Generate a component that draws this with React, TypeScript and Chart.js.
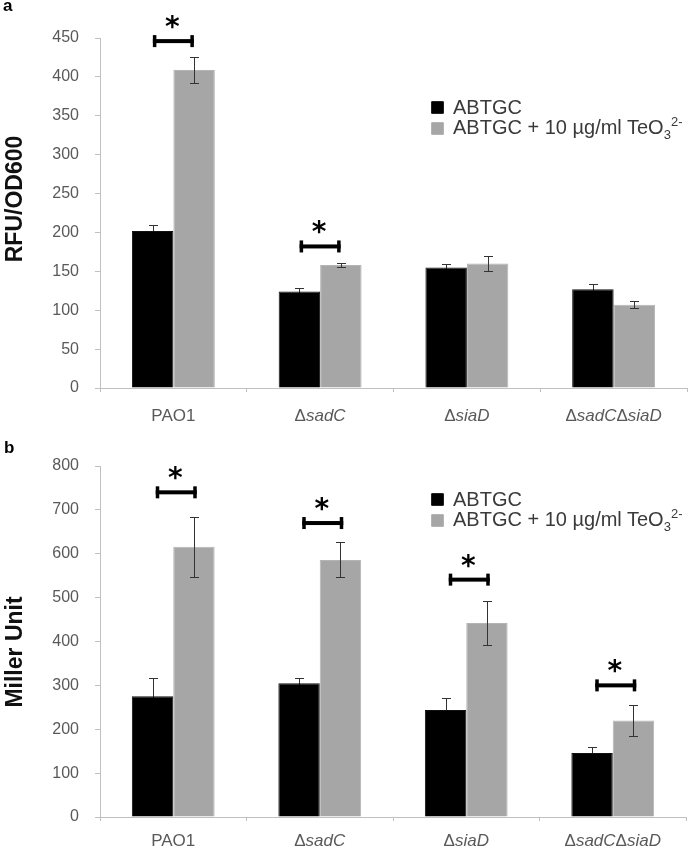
import React, { useEffect, useRef } from "react";
import { Chart, registerables } from "chart.js";

Chart.register(...registerables);

// ---------- data ----------
const categories = ["PAO1", "ΔsadC", "ΔsiaD", "ΔsadCΔsiaD"];
const seriesControl = "ABTGC";
const seriesTreatedMain = "ABTGC + 10 µg/ml TeO";
const seriesTreatedSub = "3";
const seriesTreatedSup = "2-";

// panel a: RFU/OD600
const rfuControl = [202, 124, 155, 127];
const rfuControlErr = [8, 5, 5, 7];
const rfuTreated = [409, 158, 160, 107];
const rfuTreatedErr = [17, 3, 9.5, 4.5];
const rfuSignificance = [446, 182, null, null];
const rfuTicks = { min: 0, max: 450, step: 50 };

// panel b: Miller Unit
const millerControl = [275, 305, 244, 146];
const millerControlErr = [42, 11, 28, 14];
const millerTreated = [616, 586, 442, 220];
const millerTreatedErr = [68, 40, 50, 35];
const millerSignificance = [740, 670, 541, 300];
const millerTicks = { min: 0, max: 800, step: 100 };

// ---------- styles ----------
const FONT = "'Liberation Sans', Arial, sans-serif";
const BLACK = "#000000";
const GREY = "#a6a6a6";
const AXIS = "#c0c0c0";
const TICK_TEXT = "#595959";
const ERR = "#333333";

type PanelProps = {
  top: number;
  height: number;
  axisHeight: number;
  padTop: number;
  padRight: number;
  control: number[];
  controlErr: number[];
  treated: number[];
  treatedErr: number[];
  sig: (number | null)[];
  ticks: { min: number; max: number; step: number };
  bracketShift: number;
  labelOffset: number;
};

function drawErr(chart: any, di: number, vals: number[], errs: number[]) {
  const ctx = chart.ctx;
  const y = chart.scales.y;
  const meta = chart.getDatasetMeta(di);
  meta.data.forEach((bar: any, i: number) => {
    const x = Math.round(bar.x) + 0.5;
    const t = Math.round(y.getPixelForValue(vals[i] + errs[i])) + 0.5;
    const b = Math.round(y.getPixelForValue(vals[i] - errs[i])) + 0.5;
    ctx.save();
    ctx.strokeStyle = ERR;
    ctx.lineWidth = 1;
    ctx.beginPath();
    ctx.moveTo(x, t);
    ctx.lineTo(x, b);
    ctx.moveTo(x - 4.5, t);
    ctx.lineTo(x + 4.5, t);
    ctx.moveTo(x - 4.5, b);
    ctx.lineTo(x + 4.5, b);
    ctx.stroke();
    ctx.restore();
  });
}

function Panel(p: PanelProps) {
  const ref = useRef<HTMLCanvasElement | null>(null);

  useEffect(() => {
    if (!ref.current) return;

    const errorBars = {
      id: "errorBars",
      beforeDatasetsDraw(chart: any) {
        // control bars are black: their lower whisker is hidden by the bar
        drawErr(chart, 0, p.control, p.controlErr);
      },
      afterDatasetsDraw(chart: any) {
        drawErr(chart, 1, p.treated, p.treatedErr);
      },
    };

    const brackets = {
      id: "brackets",
      afterDatasetsDraw(chart: any) {
        const ctx = chart.ctx;
        const y = chart.scales.y;
        const m0 = chart.getDatasetMeta(0);
        const m1 = chart.getDatasetMeta(1);
        p.sig.forEach((v, i) => {
          if (v == null) return;
          const cx = (m0.data[i].x + m1.data[i].x) / 2 + p.bracketShift;
          const cy = y.getPixelForValue(v);
          const half = 20.5;
          ctx.save();
          ctx.fillStyle = "#000";
          ctx.fillRect(cx - half, cy - 2, half * 2, 4);
          ctx.fillRect(cx - half, cy - 6, 3.5, 12);
          ctx.fillRect(cx + half - 3.5, cy - 6, 3.5, 12);
          ctx.font = "bold 28px 'DejaVu Sans', sans-serif";
          ctx.textAlign = "center";
          ctx.textBaseline = "alphabetic";
          const mt = ctx.measureText("*");
          const starCy = cy - 19;
          const by = starCy - (mt.actualBoundingBoxDescent - mt.actualBoundingBoxAscent) / 2;
          ctx.fillText("*", cx - 1, by);
          ctx.restore();
        });
      },
    };

    const xLabels = {
      id: "xLabels",
      afterDraw(chart: any) {
        const ctx = chart.ctx;
        const xs = chart.scales.x;
        const size = 17;
        const normal = `${size}px ${FONT}`;
        const italic = `italic ${size}px ${FONT}`;
        categories.forEach((label, i) => {
          const parts: { t: string; f: string }[] = [];
          if (label.indexOf("Δ") < 0) {
            parts.push({ t: label, f: normal });
          } else {
            label.split("Δ").forEach((seg, k) => {
              if (k > 0) parts.push({ t: "Δ", f: normal });
              if (seg) parts.push({ t: seg, f: italic });
            });
          }
          ctx.save();
          ctx.fillStyle = TICK_TEXT;
          ctx.textBaseline = "alphabetic";
          ctx.textAlign = "left";
          let w = 0;
          parts.forEach((pt) => {
            ctx.font = pt.f;
            w += ctx.measureText(pt.t).width;
          });
          let x = xs.getPixelForValue(i) - w / 2;
          const base = chart.chartArea.bottom + p.labelOffset + size * 0.36;
          parts.forEach((pt) => {
            ctx.font = pt.f;
            ctx.fillText(pt.t, x, base);
            x += ctx.measureText(pt.t).width;
          });
          ctx.restore();
        });
      },
    };

    const chart = new Chart(ref.current, {
      type: "bar",
      data: {
        labels: categories,
        datasets: [
          {
            label: seriesControl,
            data: p.control,
            backgroundColor: BLACK,
            borderColor: "#111",
            borderWidth: 1,
            categoryPercentage: 0.565,
            barPercentage: 1,
          },
          {
            label: seriesTreatedMain + seriesTreatedSub + seriesTreatedSup,
            data: p.treated,
            backgroundColor: GREY,
            borderColor: "#b4b4b4",
            borderWidth: 1,
            categoryPercentage: 0.565,
            barPercentage: 1,
          },
        ],
      },
      options: {
        responsive: false,
        animation: false,
        layout: { padding: { top: p.padTop, right: p.padRight, left: 0, bottom: 0 } },
        plugins: {
          legend: { display: false },
          tooltip: { enabled: false },
          title: { display: false },
        },
        scales: {
          x: {
            afterFit: (s: any) => {
              s.height = p.axisHeight;
            },
            grid: {
              display: true,
              drawOnChartArea: false,
              drawTicks: true,
              tickLength: 4,
              color: AXIS,
              offset: true,
            },
            border: { display: true, color: AXIS, width: 1 },
            ticks: { display: false },
          },
          y: {
            min: p.ticks.min,
            max: p.ticks.max,
            afterFit: (s: any) => {
              s.width = 100;
            },
            grid: {
              display: true,
              drawOnChartArea: false,
              drawTicks: true,
              tickLength: 5,
              color: AXIS,
            },
            border: { display: true, color: AXIS, width: 1 },
            ticks: {
              stepSize: p.ticks.step,
              padding: 16,
              color: TICK_TEXT,
              font: { family: FONT, size: 16 },
            },
          },
        },
      },
      plugins: [errorBars, brackets, xLabels],
    } as any);

    return () => chart.destroy();
  }, []);

  return (
    <canvas
      ref={ref}
      width={697}
      height={p.height}
      style={{ position: "absolute", left: 0, top: p.top, width: 697, height: p.height, display: "block" }}
    />
  );
}

function Legend({ row1, row2 }: { row1: number; row2: number }) {
  const rowStyle = (cy: number): React.CSSProperties => ({
    position: "absolute",
    left: 431,
    top: cy - 12,
    height: 24,
    display: "flex",
    alignItems: "center",
    whiteSpace: "nowrap",
    fontFamily: FONT,
    fontSize: 20,
    color: "#3a3a3a",
    lineHeight: "24px",
  });
  const sq = (c: string, b: string): React.CSSProperties => ({
    width: 11,
    height: 11,
    background: c,
    border: `1px solid ${b}`,
    borderRadius: 1,
    marginRight: 9,
    flex: "none",
  });
  return (
    <>
      <div style={rowStyle(row1)}>
        <span style={sq(BLACK, "#222")} />
        <span>{seriesControl}</span>
      </div>
      <div style={rowStyle(row2)}>
        <span style={sq(GREY, "#b4b4b4")} />
        <span>
          {seriesTreatedMain}
          <span style={{ position: "relative", fontSize: 13, top: 5 }}>{seriesTreatedSub}</span>
          <span style={{ position: "relative", fontSize: 13, top: -8 }}>{seriesTreatedSup}</span>
        </span>
      </div>
    </>
  );
}

function YTitle({ text, cx, cy }: { text: string; cx: number; cy: number }) {
  return (
    <div
      style={{
        position: "absolute",
        left: cx,
        top: cy,
        transform: "translate(-50%, -50%) rotate(-90deg)",
        whiteSpace: "nowrap",
        fontFamily: FONT,
        fontWeight: "bold",
        fontSize: 23,
        color: "#111",
        lineHeight: "26px",
      }}
    >
      {text}
    </div>
  );
}

function PanelLetter({ text, x, cy }: { text: string; x: number; cy: number }) {
  return (
    <div
      style={{
        position: "absolute",
        left: x,
        top: cy - 10,
        height: 20,
        lineHeight: "20px",
        fontFamily: FONT,
        fontWeight: "bold",
        fontSize: 17,
        color: "#000",
      }}
    >
      {text}
    </div>
  );
}

export default function App() {
  return (
    <div
      style={{
        position: "fixed",
        left: 0,
        top: 0,
        width: 697,
        height: 849,
        background: "#fff",
        overflow: "hidden",
      }}
    >
      <Panel
        top={0}
        height={436}
        axisHeight={48}
        padTop={38}
        padRight={10}
        control={rfuControl}
        controlErr={rfuControlErr}
        treated={rfuTreated}
        treatedErr={rfuTreatedErr}
        sig={rfuSignificance}
        ticks={rfuTicks}
        bracketShift={0}
        labelOffset={27}
      />
      <Panel
        top={420}
        height={429}
        axisHeight={32}
        padTop={46}
        padRight={11}
        control={millerControl}
        controlErr={millerControlErr}
        treated={millerTreated}
        treatedErr={millerTreatedErr}
        sig={millerSignificance}
        ticks={millerTicks}
        bracketShift={3}
        labelOffset={23}
      />
      <PanelLetter text="a" x={3} cy={6} />
      <PanelLetter text="b" x={4} cy={448} />
      <YTitle text="RFU/OD600" cx={14} cy={199} />
      <YTitle text="Miller Unit" cx={14} cy={652} />
      <Legend row1={107} row2={128} />
      <Legend row1={499} row2={520} />
    </div>
  );
}
